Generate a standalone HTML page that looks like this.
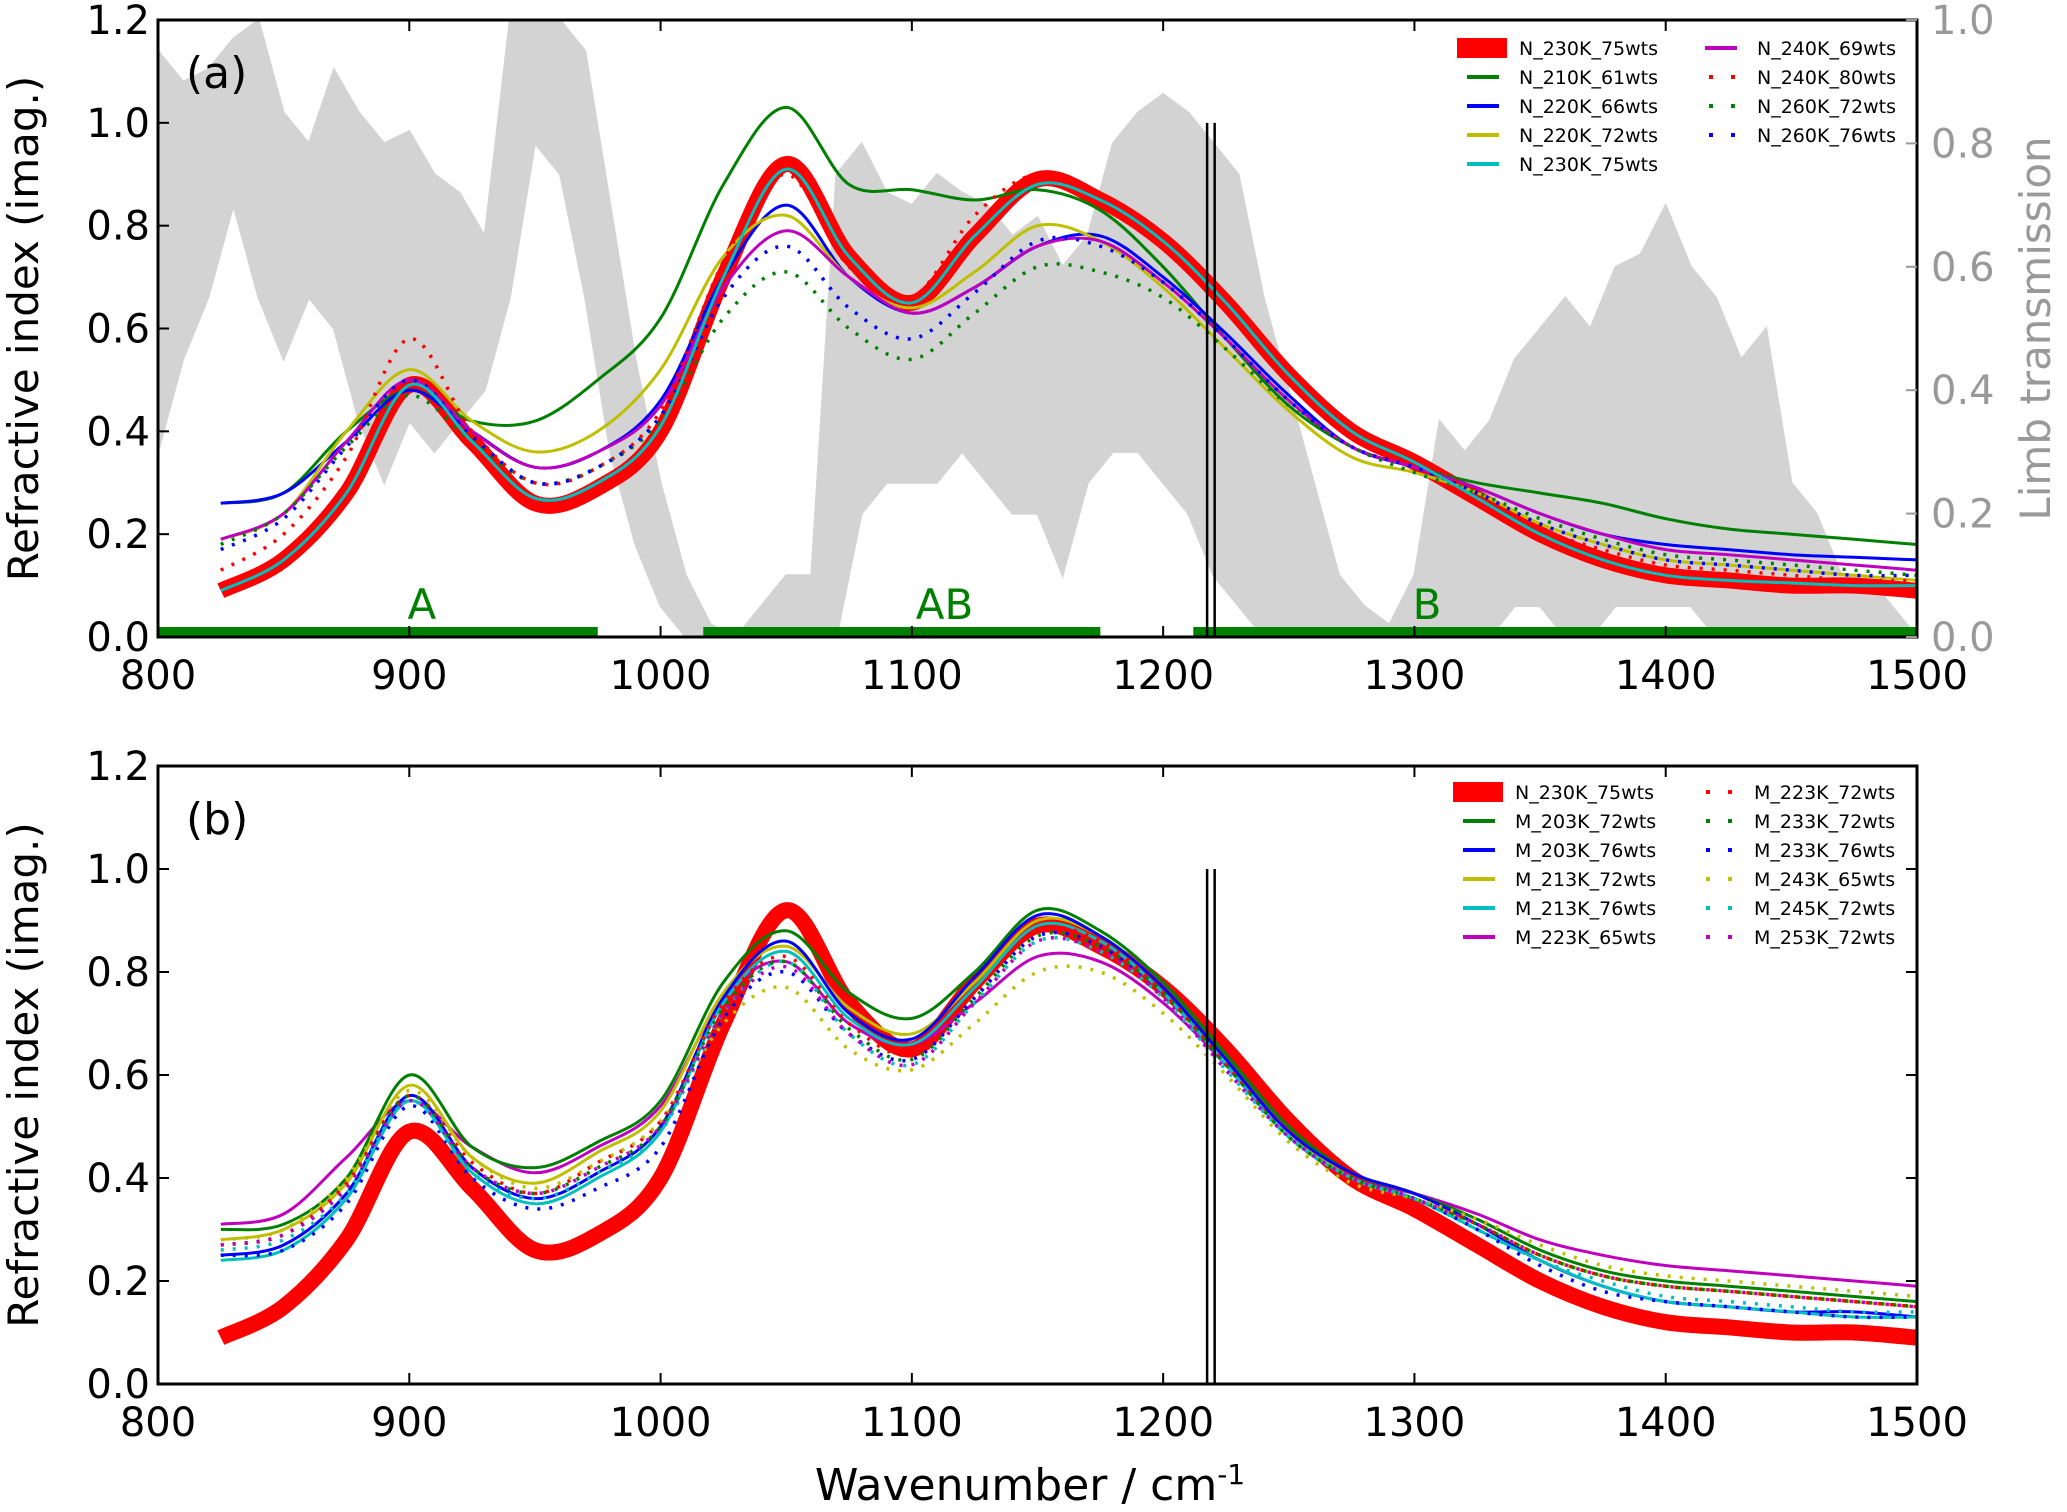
<!DOCTYPE html>
<html><head><meta charset="utf-8">
<style>
html,body{margin:0;padding:0;background:#fff;}
svg{display:block;font-family:"DejaVu Sans","Liberation Sans",sans-serif;}
</style></head>
<body>
<svg id="chart" width="2067" height="1512" viewBox="0 0 2067 1512" xmlns="http://www.w3.org/2000/svg">
<g id="root"></g>
</svg>
<script>
const xs = [825,850,875,900,925,950,975,1000,1025,1050,1075,1100,1125,1150,1175,1200,1225,1250,1275,1300,1325,1350,1375,1400,1425,1450,1475,1500];
const xTicks = [800,900,1000,1100,1200,1300,1400,1500];
const yTicks = [0.0,0.2,0.4,0.6,0.8,1.0,1.2];
const yTickLabels = ["0.0","0.2","0.4","0.6","0.8","1.0","1.2"];
const rTicks = [0.0,0.2,0.4,0.6,0.8,1.0];
const rTickLabels = ["0.0","0.2","0.4","0.6","0.8","1.0"];

const transX = [800,810,820,830,840,850,860,870,880,890,900,910,920,930,940,950,960,970,980,990,1000,1010,1020,1030,1040,1050,1060,1070,1080,1090,1100,1110,1120,1130,1140,1150,1160,1170,1180,1190,1200,1210,1220,1230,1240,1250,1260,1270,1280,1290,1300,1310,1320,1330,1340,1350,1360,1370,1380,1390,1400,1410,1420,1430,1440,1450,1460,1470,1480,1490,1500];
const transUpper = [.95,.90,.92,.97,1.0,.85,.80,.92,.85,.80,.82,.75,.72,.65,1.0,1.0,1.0,.95,.70,.45,.25,.10,.02,0,.05,.10,.10,.75,.80,.72,.70,.75,.72,.70,.65,.68,.60,.65,.80,.85,.88,.85,.80,.75,.55,.40,.25,.10,.05,.02,.10,.35,.30,.35,.45,.50,.55,.50,.60,.62,.70,.60,.55,.45,.50,.25,.20,.10,.10,.05,0];
const transLower = [.30,.45,.55,.70,.55,.45,.55,.50,.35,.25,.35,.30,.35,.40,.55,.80,.75,.55,.30,.15,.05,0,0,0,0,0,0,0,.20,.25,.25,.25,.30,.25,.20,.20,.10,.25,.30,.30,.25,.20,.10,.05,0,0,0,0,0,0,0,0,0,0,.05,.05,0,0,.05,.05,.05,.05,0,0,0,0,0,0,0,0,0];

const bandStarts = [800,1017,1212];
const bandEnds = [975,1175,1500];
const bandLabels = ["A","AB","B"];
const bandLabelX = [905,1113,1305];

const ref230 = [.09,.15,.28,.49,.38,.26,.29,.40,.70,.92,.74,.65,.78,.89,.85,.77,.65,.51,.40,.34,.27,.20,.15,.12,.11,.10,.10,.09];
const n210_61 = [.26,.28,.40,.48,.42,.42,.50,.62,.88,1.03,.88,.87,.85,.87,.83,.72,.58,.45,.37,.33,.30,.28,.26,.23,.21,.20,.19,.18];
const n220_66 = [.26,.28,.38,.48,.40,.33,.36,.46,.70,.84,.70,.63,.68,.76,.78,.70,.59,.47,.37,.33,.29,.24,.20,.18,.17,.16,.155,.15];
const n220_72 = [.19,.24,.40,.52,.42,.36,.40,.52,.74,.82,.70,.64,.71,.80,.77,.68,.56,.44,.35,.32,.28,.22,.18,.15,.14,.13,.12,.11];
const n230_75 = [.09,.15,.28,.49,.38,.27,.30,.41,.70,.91,.74,.65,.78,.88,.85,.77,.65,.51,.40,.34,.27,.20,.15,.12,.11,.105,.10,.10];
const n240_69 = [.19,.24,.38,.50,.40,.33,.36,.45,.68,.79,.70,.63,.68,.76,.77,.69,.58,.46,.37,.33,.29,.24,.20,.17,.16,.15,.14,.13];
const n240_80 = [.13,.20,.35,.58,.40,.30,.33,.44,.73,.90,.72,.66,.82,.90,.85,.77,.65,.51,.41,.35,.28,.21,.17,.14,.13,.12,.11,.11];
const n260_72 = [.18,.24,.37,.47,.38,.30,.33,.42,.62,.71,.60,.54,.63,.72,.71,.66,.56,.45,.37,.32,.28,.23,.19,.16,.15,.14,.13,.12];
const n260_76 = [.17,.23,.37,.50,.39,.30,.33,.43,.66,.76,.64,.58,.67,.77,.76,.69,.58,.46,.37,.33,.28,.22,.18,.15,.14,.13,.12,.12];

const m203_72 = [.30,.31,.40,.60,.46,.42,.47,.55,.78,.88,.76,.71,.80,.92,.88,.78,.64,.50,.41,.37,.32,.26,.22,.20,.19,.18,.17,.16];
const m203_76 = [.25,.27,.37,.56,.42,.36,.41,.50,.75,.86,.72,.67,.79,.91,.87,.77,.63,.49,.41,.37,.31,.24,.19,.16,.15,.14,.14,.13];
const m213_72 = [.28,.30,.39,.58,.44,.39,.45,.53,.76,.85,.73,.68,.78,.90,.87,.77,.63,.49,.40,.36,.31,.25,.21,.19,.18,.17,.16,.15];
const m213_76 = [.24,.26,.36,.55,.41,.35,.40,.49,.74,.84,.71,.66,.77,.89,.86,.76,.62,.48,.40,.36,.30,.24,.19,.16,.15,.14,.13,.13];
const m223_65 = [.31,.33,.44,.55,.46,.41,.46,.54,.75,.82,.70,.66,.74,.83,.82,.74,.62,.49,.40,.37,.33,.28,.25,.23,.22,.21,.20,.19];
const m223_72 = [.27,.29,.39,.56,.43,.37,.43,.51,.74,.83,.70,.64,.76,.88,.86,.76,.62,.48,.40,.36,.31,.25,.21,.19,.18,.17,.16,.15];
const m233_72 = [.27,.29,.38,.56,.42,.37,.42,.50,.73,.82,.69,.63,.75,.87,.85,.76,.62,.48,.40,.36,.31,.25,.21,.19,.18,.17,.16,.15];
const m233_76 = [.25,.26,.35,.54,.40,.34,.38,.46,.71,.80,.68,.63,.75,.87,.85,.75,.61,.48,.40,.36,.30,.23,.18,.16,.15,.14,.13,.13];
const m243_65 = [.28,.30,.40,.57,.44,.38,.43,.51,.70,.77,.65,.61,.70,.80,.80,.72,.60,.47,.39,.36,.32,.27,.23,.21,.20,.19,.18,.17];
const m245_72 = [.26,.28,.37,.55,.41,.36,.41,.49,.72,.82,.68,.62,.74,.86,.84,.75,.61,.48,.40,.36,.30,.24,.20,.17,.16,.15,.14,.14];
const m253_72 = [.27,.29,.38,.55,.42,.37,.42,.50,.72,.81,.68,.62,.74,.86,.84,.75,.61,.48,.40,.36,.31,.25,.21,.19,.18,.17,.16,.15];

const NS = "http://www.w3.org/2000/svg";
const root = document.getElementById('root');
const X0 = 158, X1 = 1917;
const panels = [{top:20,bot:637},{top:766,bot:1384}];
function sx(v){return X0 + (v-800)/(1500-800)*(X1-X0);}
function syF(p){return v => p.bot - v/1.2*(p.bot-p.top);}
function mk(tag, attrs, parent){
  const e = document.createElementNS(NS, tag);
  for (const k in attrs) e.setAttribute(k, attrs[k]);
  (parent||root).appendChild(e);
  return e;
}
function smoothPath(px, py){
  let d = "M"+px[0].toFixed(1)+","+py[0].toFixed(1);
  for (let i=0;i<px.length-1;i++){
    const x0=px[Math.max(i-1,0)], y0=py[Math.max(i-1,0)];
    const x1=px[i], y1=py[i], x2=px[i+1], y2=py[i+1];
    const x3=px[Math.min(i+2,px.length-1)], y3=py[Math.min(i+2,px.length-1)];
    const c1x=x1+(x2-x0)/6, c1y=y1+(y2-y0)/6, c2x=x2-(x3-x1)/6, c2y=y2-(y3-y1)/6;
    d += " C"+c1x.toFixed(1)+","+c1y.toFixed(1)+" "+c2x.toFixed(1)+","+c2y.toFixed(1)+" "+x2.toFixed(1)+","+y2.toFixed(1);
  }
  return d;
}
function drawSeries(vals, sy, color, width, dotted, name, g){
  const a = {d: smoothPath(xs.map(sx), vals.map(sy)), fill:"none", stroke:color, "stroke-width":width, "stroke-linejoin":"round"};
  if (dotted) a["stroke-dasharray"] = "3,9";
  const e = mk('path', a, g);
  
  
}

const G='#008000', B='#0000ff', Y='#bfbf00', C='#00bfbf', M='#bf00bf', R='#ff0000';

panels.forEach((p, pi) => {
  const sy = syF(p);
  const g = mk('g', {});
  
  
  const clipId = 'clip'+pi;
  const cp = mk('clipPath', {id:clipId}, g);
  mk('rect', {x:X0, y:p.top, width:X1-X0, height:p.bot-p.top}, cp);
  const plot = mk('g', {'clip-path':'url(#'+clipId+')'}, g);

  if (pi===0){
    // transmission
    const ry = v => p.bot - v*(p.bot-p.top);
    let d = "M"+sx(transX[0])+","+ry(transUpper[0]);
    for (let i=1;i<transX.length;i++) d += " L"+sx(transX[i]).toFixed(1)+","+ry(transUpper[i]).toFixed(1);
    for (let i=transX.length-1;i>=0;i--) d += " L"+sx(transX[i]).toFixed(1)+","+ry(transLower[i]).toFixed(1);
    d += "Z";
    const tr = mk('path', {d:d, fill:'#d3d3d3', stroke:'#d3d3d3', 'stroke-width':2}, plot);
    
    
    // bands
    for (let i=0;i<bandStarts.length;i++){
      const b = mk('line', {x1:sx(bandStarts[i]), x2:sx(bandEnds[i]), y1:p.bot-5, y2:p.bot-5, stroke:G, 'stroke-width':10}, plot);
      
      
      const t = mk('text', {x:sx(bandLabelX[i]), y:sy(0.035), fill:G, 'font-size':42, 'text-anchor':'middle'}, g);
      t.textContent = bandLabels[i];
      
      
    }
    drawSeries(ref230, sy, R, 16, false, 'n-230k-75wts-thick', plot);
    drawSeries(n210_61, sy, G, 3, false, 'n-210k-61wts', plot);
    drawSeries(n220_66, sy, B, 3, false, 'n-220k-66wts', plot);
    drawSeries(n220_72, sy, Y, 3, false, 'n-220k-72wts', plot);
    drawSeries(n240_69, sy, M, 3, false, 'n-240k-69wts', plot);
    drawSeries(n240_80, sy, R, 3.5, true, 'n-240k-80wts', plot);
    drawSeries(n260_72, sy, G, 3.5, true, 'n-260k-72wts', plot);
    drawSeries(n260_76, sy, B, 3.5, true, 'n-260k-76wts', plot);
    drawSeries(n230_75, sy, C, 3, false, 'n-230k-75wts', plot);
  } else {
    drawSeries(ref230, sy, R, 16, false, 'n-230k-75wts-thick', plot);
    drawSeries(m223_65, sy, M, 3, false, 'm-223k-65wts', plot);
    drawSeries(m203_72, sy, G, 3, false, 'm-203k-72wts', plot);
    drawSeries(m213_72, sy, Y, 3, false, 'm-213k-72wts', plot);
    drawSeries(m203_76, sy, B, 3, false, 'm-203k-76wts', plot);
    drawSeries(m213_76, sy, C, 3, false, 'm-213k-76wts', plot);
    drawSeries(m223_72, sy, R, 3.5, true, 'm-223k-72wts', plot);
    drawSeries(m233_72, sy, G, 3.5, true, 'm-233k-72wts', plot);
    drawSeries(m233_76, sy, B, 3.5, true, 'm-233k-76wts', plot);
    drawSeries(m243_65, sy, Y, 3.5, true, 'm-243k-65wts', plot);
    drawSeries(m245_72, sy, C, 3.5, true, 'm-245k-72wts', plot);
    drawSeries(m253_72, sy, M, 3.5, true, 'm-253k-72wts', plot);
  }
  // vertical double line
  [1217.5,1220.5].forEach(v=>{
    const l = mk('line', {x1:sx(v), x2:sx(v), y1:sy(1.0), y2:p.bot, stroke:'#000', 'stroke-width':2.5}, g);
    
    
  });
  // frame
  const fr = mk('rect', {x:X0, y:p.top, width:X1-X0, height:p.bot-p.top, fill:'none', stroke:'#000', 'stroke-width':3}, g);
  
  
  // x ticks
  xTicks.forEach(v=>{
    const x = sx(v);
    mk('line', {x1:x, x2:x, y1:p.bot, y2:p.bot-11, stroke:'#000', 'stroke-width':2}, g);
    mk('line', {x1:x, x2:x, y1:p.top, y2:p.top+11, stroke:'#000', 'stroke-width':2}, g);
    const t = mk('text', {x:x, y:p.bot+52, 'font-size':40, 'text-anchor':'middle'}, g);
    t.textContent = String(v);
    
    
  });
  yTicks.forEach((v,i)=>{
    const y = sy(v);
    mk('line', {x1:X0, x2:X0+11, y1:y, y2:y, stroke:'#000', 'stroke-width':2}, g);
    if (pi===1) mk('line', {x1:X1, x2:X1-11, y1:y, y2:y, stroke:'#000', 'stroke-width':2}, g);
    const t = mk('text', {x:X0-8, y:y+14, 'font-size':40, 'text-anchor':'end'}, g);
    t.textContent = yTickLabels[i];
    
    
  });
  if (pi===0){
    rTicks.forEach((v,i)=>{
      const y = p.bot - v*(p.bot-p.top);
      mk('line', {x1:X1, x2:X1-11, y1:y, y2:y, stroke:'#999', 'stroke-width':2}, g);
      const t = mk('text', {x:X1+14, y:y+14, 'font-size':40, fill:'#999'}, g);
      t.textContent = rTickLabels[i];
      
      
    });
    const rl = mk('text', {x:2050, y:(p.top+p.bot)/2, 'font-size':42, fill:'#999', 'text-anchor':'middle', transform:'rotate(-90 2050 '+((p.top+p.bot)/2)+')'}, g);
    rl.textContent = 'Limb transmission';
    
    
  }
  const yl = mk('text', {x:38, y:(p.top+p.bot)/2, 'font-size':42, 'text-anchor':'middle', transform:'rotate(-90 38 '+((p.top+p.bot)/2)+')'}, g);
  yl.textContent = 'Refractive index (imag.)';
  
  
  const pl = mk('text', {x:186, y:p.top+68, 'font-size':44}, g);
  pl.textContent = pi===0 ? '(a)' : '(b)';
  
  
});

// legends
const legA = [
  ['N_230K_75wts',R,'thick',0,0],['N_210K_61wts',G,'solid',0,1],['N_220K_66wts',B,'solid',0,2],['N_220K_72wts',Y,'solid',0,3],['N_230K_75wts',C,'solid',0,4],
  ['N_240K_69wts',M,'solid',1,0],['N_240K_80wts',R,'dot',1,1],['N_260K_72wts',G,'dot',1,2],['N_260K_76wts',B,'dot',1,3]
];
const legB = [
  ['N_230K_75wts',R,'thick',0,0],['M_203K_72wts',G,'solid',0,1],['M_203K_76wts',B,'solid',0,2],['M_213K_72wts',Y,'solid',0,3],['M_213K_76wts',C,'solid',0,4],['M_223K_65wts',M,'solid',0,5],
  ['M_223K_72wts',R,'dot',1,0],['M_233K_72wts',G,'dot',1,1],['M_233K_76wts',B,'dot',1,2],['M_243K_65wts',Y,'dot',1,3],['M_245K_72wts',C,'dot',1,4],['M_253K_72wts',M,'dot',1,5]
];
function drawLegend(items, y0, dy, colX, name){
  const g = mk('g', {});
  
  
  items.forEach(it=>{
    const [lab,col,sty,c,r] = it;
    const y = y0 + r*dy;
    const hx = colX[c];
    const ent = mk('g', {}, g);
    
    
    if (sty==='thick') mk('rect', {x:hx-10, y:y-10, width:50, height:20, fill:col}, ent);
    else if (sty==='solid') mk('line', {x1:hx, x2:hx+32, y1:y, y2:y, stroke:col, 'stroke-width':4}, ent);
    else mk('line', {x1:hx+4, x2:hx+32, y1:y, y2:y, stroke:col, 'stroke-width':4, 'stroke-dasharray':'4,18'}, ent);
    const t = mk('text', {x:hx+52, y:y+7, 'font-size':19}, ent);
    t.textContent = lab;
  });
}
drawLegend(legA, 48, 29, [1467,1705], 'legend-a');
drawLegend(legB, 792, 29, [1463,1702], 'legend-b');

const xl = mk('text', {x:1030, y:1500, 'font-size':44, 'text-anchor':'middle'});
xl.innerHTML = 'Wavenumber / cm<tspan dy="-16" font-size="28">-1</tspan>';


</script>
</body></html>
